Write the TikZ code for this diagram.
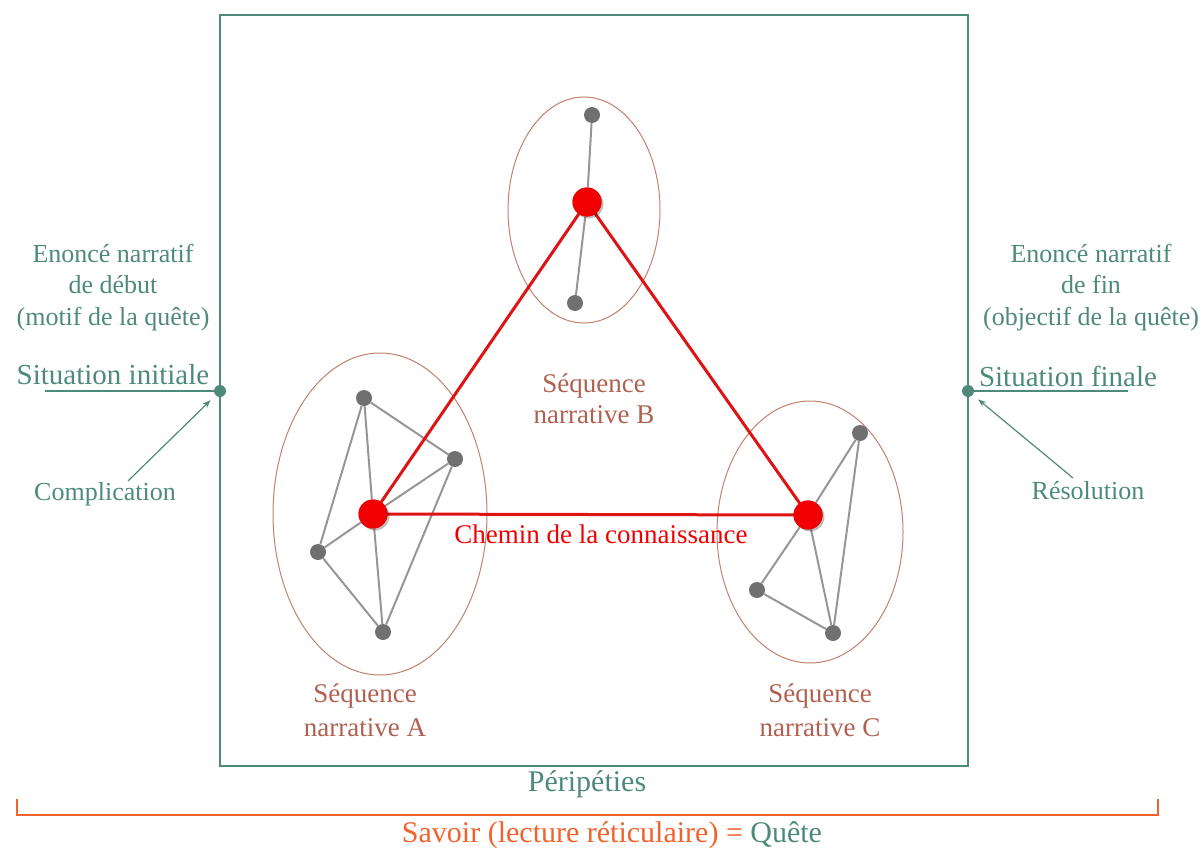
\documentclass[tikz,border=0pt]{standalone}
\usepackage{fontspec}
\setmainfont{Liberation Serif}
\usetikzlibrary{arrows.meta}
\definecolor{tealc}{RGB}{78,138,122}
\definecolor{ellc}{RGB}{196,128,108}
\definecolor{seqc}{RGB}{176,96,80}
\definecolor{redc}{RGB}{240,0,0}
\definecolor{redl}{RGB}{222,20,20}
\definecolor{dotg}{RGB}{112,112,112}
\definecolor{lineg}{RGB}{150,150,150}
\definecolor{orangec}{RGB}{242,98,44}
\tikzset{
  gdot/.style={circle,fill=dotg,minimum size=16pt,inner sep=0pt},
  rdot/.style={circle,fill=redc,minimum size=29pt,inner sep=0pt},
  tdot/.style={circle,fill=tealc,minimum size=12pt,inner sep=0pt},
  gline/.style={draw=lineg,line width=2pt},
  rline/.style={draw=redl,line width=3pt},
  ell/.style={draw=ellc,line width=1pt},
  txt/.style={anchor=base,inner sep=0pt},
  tealtxt/.style={txt,text=tealc,font=\fontsize{26}{31}\selectfont},
  bigteal/.style={txt,text=tealc,font=\fontsize{29}{34}\selectfont},
  seqtxt/.style={txt,text=seqc,font=\fontsize{27}{32}\selectfont},
  arr/.style={draw=tealc,line width=1.2pt,-{Stealth[length=8pt,width=6pt]},shorten >=7pt},
}
\begin{document}
\begin{tikzpicture}[x=1pt,y=-1pt]
\useasboundingbox (0,0) rectangle (1204,848);
% frame
\draw[draw=tealc,line width=2pt] (220,15) rectangle (968,766);
% ellipses
\draw[ell] (380,514) ellipse [x radius=107pt, y radius=161pt];
\draw[ell] (584,210) ellipse [x radius=76pt, y radius=113pt];
\draw[ell] (810,532) ellipse [x radius=93pt, y radius=131pt];
% gray nodes
\node[gdot] (a1) at (364,398) {};
\node[gdot] (a2) at (455,459) {};
\node[gdot] (a3) at (318,552) {};
\node[gdot] (a4) at (383,632) {};
\node[gdot] (b1) at (592,115) {};
\node[gdot] (b2) at (575,303) {};
\node[gdot] (c1) at (860,433) {};
\node[gdot] (c2) at (757,590) {};
\node[gdot] (c3) at (833,633) {};
% red nodes (placed for connectors)
\node[rdot] (ra) at (373,514) {};
\node[rdot] (rb) at (587,202) {};
\node[rdot] (rc) at (808,515) {};
% gray edges
\draw[gline] (a1) -- (a2);
\draw[gline] (a1) -- (a3);
\draw[gline] (a1) -- (ra);
\draw[gline] (ra) -- (a4);
\draw[gline] (a2) -- (ra);
\draw[gline] (a2) -- (a4);
\draw[gline] (ra) -- (a3);
\draw[gline] (a3) -- (a4);
\draw[gline] (b1) -- (rb);
\draw[gline] (rb) -- (b2);
\draw[gline] (c1) -- (rc);
\draw[gline] (rc) -- (c2);
\draw[gline] (c1) -- (c3);
\draw[gline] (rc) -- (c3);
\draw[gline] (c2) -- (c3);
% red triangle
\draw[rline] (ra.center) -- (rb.center);
\draw[rline] (rb.center) -- (rc.center);
\draw[rline] (ra.center) -- (rc.center);
% red dots on top with soft shadow
\foreach \p in {{(373,514)},{(587,202)},{(808,515)}}{
  \fill[black,opacity=0.25] \p ++(2,2) circle (14.5pt);
  \fill[redc] \p circle (14.5pt);
}
% labels in triangle
\node[seqtxt] (sqB1) at (594,392) {Séquence};
\node[seqtxt] (sqB2) at (594,423) {narrative B};
\node[seqtxt] (sqA1) at (365,702) {Séquence};
\node[seqtxt] (sqA2) at (365,736) {narrative A};
\node[seqtxt] (sqC1) at (820,702) {Séquence};
\node[seqtxt] (sqC2) at (820,736) {narrative C};
\node[txt,text=redc,font=\fontsize{27}{32}\selectfont] (chemin) at (601,543) {Chemin de la connaissance};
% left side
\node[tealtxt] (l1) at (113,262) {Enoncé narratif};
\node[tealtxt] (l2) at (113,293) {de début};
\node[tealtxt] (l3) at (113,325) {(motif de la quête)};
\node[bigteal] (sitI) at (113,384) {Situation initiale};
\node[tdot] (dotL) at (220,391) {};
\draw[draw=tealc,line width=2pt] (45,391) -- (dotL);
\node[tealtxt] (compl) at (105,500) {Complication};
\coordinate (cstart) at (128,481);
\draw[arr] (cstart) -- (dotL);
% right side
\node[tealtxt] (r1) at (1091,262) {Enoncé narratif};
\node[tealtxt] (r2) at (1091,293) {de fin};
\node[tealtxt] (r3) at (1091,325) {(objectif de la quête)};
\node[bigteal] (sitF) at (1068,386) {Situation finale};
\node[tdot] (dotR) at (968,391) {};
\draw[draw=tealc,line width=2pt] (dotR) -- (1128,391);
\node[tealtxt] (resol) at (1088,499) {Résolution};
\coordinate (rstart) at (1073,478);
\draw[arr] (rstart) -- (dotR);
% bottom
\node[txt,text=tealc,font=\fontsize{30}{34}\selectfont] (perip) at (587,791) {Péripéties};
\draw[draw=orangec,line width=2pt] (17,799) -- (17,815) -- (1158,815) -- (1158,799);
\node[txt,font=\fontsize{30}{34}\selectfont] (savoir) at (612,842) {\textcolor{orangec}{Savoir (lecture réticulaire) =} \textcolor{tealc}{Quête}};
\end{tikzpicture}
\end{document}
